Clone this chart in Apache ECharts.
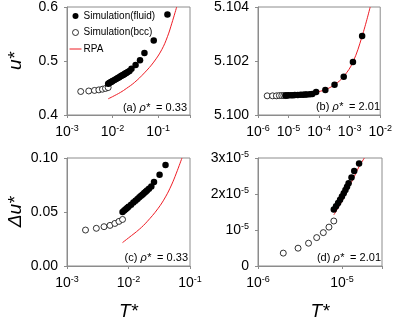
<!DOCTYPE html>
<html>
<head>
<meta charset="utf-8">
<script src="https://cdn.jsdelivr.net/npm/echarts@6/dist/echarts.min.js"></script>
<style>
  html, body { margin: 0; padding: 0; background: #fff; }
  #chart { width: 395px; height: 322px; }
</style>
</head>
<body>
<div id="chart"></div>
<script>
var FONT = 'Liberation Sans, Arial, sans-serif';

// panel (a): rho* = 0.33, u*
var aBccT = [0.002, 0.003, 0.004, 0.005, 0.006, 0.007, 0.008];
var aBccU = [0.4435, 0.4445, 0.4455, 0.4465, 0.4478, 0.4492, 0.4508];
var aFluidT = [0.008, 0.0085, 0.009, 0.0095, 0.010, 0.011, 0.012, 0.013, 0.014, 0.015, 0.016, 0.017, 0.018, 0.019, 0.020, 0.0215, 0.0235, 0.026, 0.032, 0.04, 0.05, 0.08, 0.16];
var aFluidU = [0.458, 0.4593, 0.4605, 0.4617, 0.4628, 0.4648, 0.4667, 0.4685, 0.4701, 0.4716, 0.4730, 0.4743, 0.4756, 0.4768, 0.4780, 0.4796, 0.4817, 0.4857, 0.4924, 0.5016, 0.515, 0.538, 0.586];
var aRpaT = [0.008, 0.01, 0.015, 0.02, 0.03, 0.05, 0.08, 0.12, 0.16, 0.2, 0.255];
var aRpaU = [0.430, 0.434, 0.442, 0.449, 0.460, 0.478, 0.498, 0.521, 0.545, 0.570, 0.600];

// panel (b): rho* = 2.01, u*
var bBccT = [2e-6, 3e-6, 4e-6, 5e-6, 6e-6, 7e-6, 8e-6];
var bBccU = [5.10071, 5.10071, 5.10071, 5.10072, 5.10072, 5.10072, 5.10072];
var bFluidT = [8e-6, 9e-6, 1e-5, 1.2e-5, 1.4e-5, 1.6e-5, 2e-5, 2.5e-5, 3e-5, 3.5e-5, 4e-5, 5e-5, 6e-5, 8e-5, 1.6e-4, 3.2e-4, 6.4e-4, 1.28e-3, 2.56e-3];
var bFluidU = [5.10072, 5.10072, 5.10073, 5.10073, 5.10073, 5.10074, 5.10074, 5.10075, 5.10075, 5.10076, 5.10076, 5.10077, 5.10078, 5.10085, 5.10093, 5.10112, 5.10142, 5.10196, 5.10293];
var bRpaT = [8e-6, 3e-5, 5e-5, 8e-5, 1.6e-4, 3.2e-4, 6.4e-4, 1.28e-3, 2.56e-3, 4.7e-3];
var bRpaU = [5.10072, 5.10075, 5.10078, 5.10084, 5.10094, 5.10112, 5.10143, 5.10196, 5.10292, 5.10400];

// panel (c): rho* = 0.33, delta u*
var cBccT = [0.002, 0.003, 0.004, 0.005, 0.006, 0.007, 0.008];
var cBccU = [0.0333, 0.0349, 0.0364, 0.0376, 0.0394, 0.0413, 0.0431];
var cFluidT = [0.008, 0.0085, 0.009, 0.0095, 0.010, 0.011, 0.012, 0.013, 0.014, 0.015, 0.016, 0.017, 0.018, 0.019, 0.020, 0.0215, 0.0235, 0.026, 0.032, 0.04];
var cFluidU = [0.0500, 0.0513, 0.0525, 0.0537, 0.0548, 0.0568, 0.0587, 0.0605, 0.0621, 0.0636, 0.0650, 0.0663, 0.0676, 0.0688, 0.0700, 0.0716, 0.0737, 0.0777, 0.0844, 0.0936];
var cRpaT = [0.008, 0.01, 0.015, 0.02, 0.03, 0.04, 0.05, 0.06, 0.074];
var cRpaU = [0.0217, 0.026, 0.034, 0.041, 0.053, 0.064, 0.075, 0.086, 0.100];

// panel (d): rho* = 2.01, delta u*
var dBccT = [2e-6, 3e-6, 4e-6, 5e-6, 6e-6, 7e-6, 8e-6];
var dBccU = [3.58e-6, 4.95e-6, 6.33e-6, 7.89e-6, 9.27e-6, 1.08e-5, 1.25e-5];
var dFluidT = [8e-6, 8.5e-6, 9e-6, 9.5e-6, 1e-5, 1.05e-5, 1.1e-5, 1.15e-5, 1.2e-5, 1.3e-5, 1.4e-5, 1.6e-5];
var dFluidU = [1.57e-5, 1.66e-5, 1.75e-5, 1.84e-5, 1.93e-5, 2.02e-5, 2.11e-5, 2.2e-5, 2.3e-5, 2.46e-5, 2.64e-5, 2.85e-5];
var dRpaT = [8e-6, 1e-5, 1.2e-5, 1.4e-5, 1.6e-5, 1.85e-5];
var dRpaU = [1.42e-5, 1.8e-5, 2.17e-5, 2.48e-5, 2.76e-5, 3.0e-5];

var dTickLabels = ['0', '{b|10}{s|-5}', '{b|2x10}{s|-5}', '{b|3x10}{s|-5}'];

function pairs(xs, ys) {
  return xs.map(function (x, i) { return [x, ys[i]]; });
}

var chart = echarts.init(document.getElementById('chart'));

var rich = {
  b: { fontSize: 14, fontFamily: FONT, color: '#000', lineHeight: 16 },
  s: { fontSize: 9, fontFamily: FONT, color: '#000', lineHeight: 9, verticalAlign: 'top' }
};

function powLabel(v) {
  var e = Math.log10(v);
  var r = Math.round(e);
  if (Math.abs(e - r) > 1e-6) return '';
  return '{b|10}{s|' + r + '}';
}

var axisGray = '#8c8c8c';
var red = '#ee1c25';

function xLog(idx, min, max, name) {
  return {
    type: 'log', gridIndex: idx, min: min, max: max, logBase: 10,
    name: name || '', nameLocation: 'middle', nameGap: 36,
    nameTextStyle: { fontFamily: FONT, fontSize: 19, fontStyle: 'italic', color: '#000' },
    axisLine: { lineStyle: { color: axisGray } },
    axisTick: { show: true, inside: false, length: 3, lineStyle: { color: axisGray } },
    minorTick: { show: false },
    splitLine: { show: false },
    axisLabel: { margin: 9, formatter: powLabel, rich: rich }
  };
}

function yLin(idx, min, max, interval, fmt, name) {
  return {
    type: 'value', gridIndex: idx, min: min, max: max, interval: interval,
    name: name, nameLocation: 'middle', nameGap: 42, nameRotate: 90,
    nameTextStyle: { fontFamily: FONT, fontSize: 19, fontStyle: 'italic', color: '#000' },
    axisLine: { show: true, lineStyle: { color: axisGray } },
    axisTick: { show: true, inside: false, length: 3, lineStyle: { color: axisGray } },
    splitLine: { show: false },
    axisLabel: { margin: 9, fontFamily: FONT, fontSize: 14, color: '#000', formatter: fmt, rich: rich }
  };
}

function fluid(idx, data) {
  return {
    name: 'Simulation(fluid)', type: 'scatter', xAxisIndex: idx, yAxisIndex: idx,
    data: data, symbol: 'circle', symbolSize: 6.5, z: 4,
    itemStyle: { color: '#000', borderColor: '#000', borderWidth: 0, opacity: 1 }
  };
}
function bcc(idx, data) {
  return {
    name: 'Simulation(bcc)', type: 'scatter', xAxisIndex: idx, yAxisIndex: idx,
    data: data, symbol: 'circle', symbolSize: 6, z: 3,
    itemStyle: { color: '#fff', borderColor: '#000', borderWidth: 0.8, opacity: 1 }
  };
}
function rpa(idx, data) {
  return {
    name: 'RPA', type: 'line', xAxisIndex: idx, yAxisIndex: idx,
    data: data, symbol: 'none', smooth: 0.4, z: 2,
    lineStyle: { color: red, width: 1 },
    itemStyle: { color: red }
  };
}

function note(x, y, label, rho) {
  return {
    type: 'text', x: x, y: y,
    style: {
      text: label + ' {i|\u03c1*}  = ' + rho,
      align: 'right', verticalAlign: 'middle',
      fontFamily: FONT, fontSize: 11, fill: '#000',
      rich: { i: { fontFamily: FONT, fontSize: 11, fontStyle: 'italic', fill: '#000' } }
    }
  };
}

var gridBox = { show: true, borderColor: axisGray, borderWidth: 1, containLabel: false };

var option = {
  backgroundColor: '#fff',
  animation: false,
  textStyle: { fontFamily: FONT },
  grid: [
    Object.assign({ left: 67, width: 123, top: 5, height: 110 }, gridBox),
    Object.assign({ left: 258, width: 124, top: 5, height: 110 }, gridBox),
    Object.assign({ left: 67, width: 123, top: 158, height: 109 }, gridBox),
    Object.assign({ left: 258, width: 124, top: 158, height: 109 }, gridBox)
  ],
  legend: {
    orient: 'vertical', left: 69, top: 11, itemWidth: 12, itemHeight: 6, itemGap: 6.5,
    padding: 0,
    data: [
      { name: 'Simulation(fluid)', itemStyle: { borderWidth: 0 } },
      { name: 'Simulation(bcc)', itemStyle: { borderWidth: 0.8 } },
      { name: 'RPA', itemStyle: { opacity: 0 }, lineStyle: { color: red, width: 1 } }
    ],
    textStyle: { fontFamily: FONT, fontSize: 10, color: '#000', padding: [0, 0, 0, -3] },
    selectedMode: false
  },
  xAxis: [
    xLog(0, 1e-3, 0.5),
    xLog(1, 1e-6, 1e-2),
    xLog(2, 1e-3, 1e-1, 'T*'),
    xLog(3, 1e-6, 3e-5, 'T*')
  ],
  yAxis: [
    yLin(0, 0.4, 0.6, 0.1, function (v) { return v.toFixed(1); }, 'u*'),
    yLin(1, 5.100, 5.104, 0.002, function (v) { return v.toFixed(3); }, ''),
    yLin(2, 0, 0.1, 0.05, function (v) { return v.toFixed(2); }, '\u0394u*'),
    yLin(3, 0, 3e-5, 1e-5, function (v) { return dTickLabels[Math.round(v / 1e-5)]; }, '')
  ],
  series: [
    fluid(0, pairs(aFluidT, aFluidU)),
    bcc(0, pairs(aBccT, aBccU)),
    rpa(0, pairs(aRpaT, aRpaU)),
    bcc(1, pairs(bBccT, bBccU)),
    fluid(1, pairs(bFluidT, bFluidU)),
    rpa(1, pairs(bRpaT, bRpaU)),
    bcc(2, pairs(cBccT, cBccU)),
    fluid(2, pairs(cFluidT, cFluidU)),
    rpa(2, pairs(cRpaT, cRpaU)),
    bcc(3, pairs(dBccT, dBccU)),
    fluid(3, pairs(dFluidT, dFluidU)),
    rpa(3, pairs(dRpaT, dRpaU))
  ],
  graphic: [
    note(187, 108, '(a)', '0.33'),
    note(380, 107, '(b)', '2.01'),
    note(188, 258, '(c)', '0.33'),
    note(381, 258, '(d)', '2.01')
  ]
};

chart.setOption(option);
</script>
</body>
</html>
